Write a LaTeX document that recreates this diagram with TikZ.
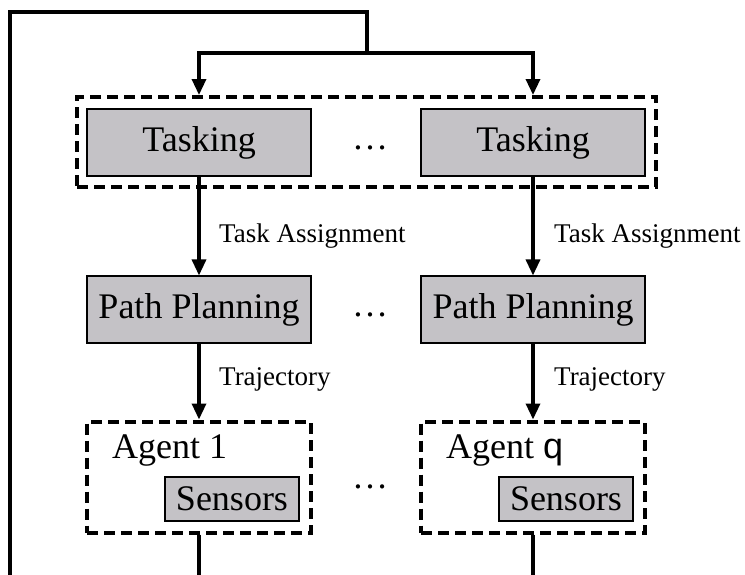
\documentclass[tikz,border=0pt]{standalone}
\usepackage{fontspec}
\setmainfont{Liberation Serif}
\newfontfamily\qfont{Liberation Sans}
\usetikzlibrary{arrows.meta}
\definecolor{boxgray}{RGB}{196,194,198}
\begin{document}
\begin{tikzpicture}[x=1pt,y=-1pt,
  bigfont/.style={font=\fontsize{36}{40}\selectfont},
  graybox/.style={draw=black, line width=1.1pt, fill=boxgray, inner sep=0pt, bigfont},
  mainbox/.style={graybox, minimum width=224pt, minimum height=67pt},
  sensbox/.style={graybox, minimum width=134pt, minimum height=44pt},
  dashbox/.style={draw=black, line width=4pt, dash pattern=on 11pt off 6pt, inner sep=0pt},
  conn/.style={line width=3.3pt},
  arr/.style={conn, -{Triangle[length=16pt,width=14pt]}},
  lbl/.style={font=\fontsize{27}{30}\selectfont, anchor=west, inner sep=0pt},
  dots/.style={bigfont, inner sep=0pt}
]
\useasboundingbox (0,0) rectangle (745,574);

% tasking group
\node[dashbox, minimum width=579pt, minimum height=90pt] (tg) at (366.5,142) {};
\node[mainbox] (t1) at (199,142.5) {Tasking};
\node[mainbox] (t2) at (533,142.5) {Tasking};
\node[dots] (d1) at (370,148) {\ldots};

% path planning
\node[mainbox] (p1) at (199,309.5) {Path Planning};
\node[mainbox] (p2) at (533,309.5) {Path Planning};
\node[dots] (d2) at (370,315) {\ldots};

% agents
\node[dashbox, minimum width=224pt, minimum height=111pt] (a1) at (199,477) {};
\node[dashbox, minimum width=224pt, minimum height=111pt] (a2) at (533,477) {};
\node[bigfont, anchor=base west, inner sep=0pt] (al1) at (112,458) {Agent 1};
\node[bigfont, anchor=base west, inner sep=0pt] (al2) at (446,458) {Agent {\qfont q}};
\node[sensbox] (s1) at (232,499) {Sensors};
\node[sensbox] (s2) at (566,499) {Sensors};
\node[dots] (d3) at (370,487) {\ldots};

% connectors with labels
\draw[arr] (t1.south) -- (p1.north);
\draw[arr] (t2.south) -- (p2.north);
\node[lbl] (la1) at (219,236) {Task Assignment};
\node[lbl] (la2) at (554,236) {Task Assignment};
\draw[arr] (p1.south) -- (a1.north);
\draw[arr] (p2.south) -- (a2.north);
\node[lbl] (lt1) at (219,379) {Trajectory};
\node[lbl] (lt2) at (554,379) {Trajectory};

% feedback
\coordinate (b1) at (199,580);
\coordinate (b2) at (533,580);
\coordinate (bl) at (10,580);
\coordinate (tl) at (10,12);
\coordinate (tc) at (367,12);
\coordinate (sp) at (367,53);
\draw[conn] (a1.south) -- (b1);
\draw[conn] (a2.south) -- (b2);
\draw[conn] (bl) -- (tl) -- (tc) -- (sp);
\draw[arr] (sp) -| (t1 |- tg.north);
\draw[arr] (sp) -| (t2 |- tg.north);
\end{tikzpicture}
\end{document}
